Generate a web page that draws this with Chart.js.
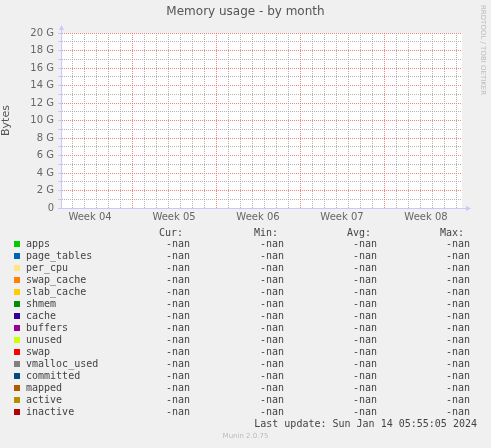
<!DOCTYPE html>
<html><head><meta charset="utf-8">
<script src="https://cdn.jsdelivr.net/npm/chart.js@4"></script>
<style>
body{margin:0;background:#f0f0f0;width:491px;height:448px;overflow:hidden;position:relative;font-family:"DejaVu Sans",sans-serif}
#wrap{position:absolute;left:0;top:0;width:491px;height:230px}
.t{position:absolute;white-space:pre}
.mono{font-family:"DejaVu Sans Mono",monospace;font-size:10px;color:#444}
.sq{position:absolute;width:6px;height:6px}
</style></head><body>
<div id="wrap"><canvas id="c" width="491" height="230" style="width:491px;height:230px"></canvas></div>
<div class="t" style="left:0;width:491px;top:4px;text-align:center;font-size:12px;color:#555">Memory usage - by month</div>
<div class="t" style="left:476px;top:5px;font-size:7px;color:#bbb;transform-origin:0 0;transform:translate(11px,0) rotate(90deg)">RRDTOOL / TOBI OETIKER</div>
<div id="legend"></div>
<script>
const weeks=["Week 04","Week 05","Week 06","Week 07","Week 08"];
const yTicks=[0,2,4,6,8,10,12,14,16,18,20];
const names=["apps","page_tables","per_cpu","swap_cache","slab_cache","shmem","cache","buffers","unused","swap","vmalloc_used","committed","mapped","active","inactive"];
const colors=["#00cc00","#0066b3","#ffe680","#ff8000","#ffcc00","#008f00","#330099","#990099","#ccff00","#ff0000","#808080","#004b80","#b35a00","#b38f00","#b30000"];
const values=names.map(()=>[null,null]);
const stats=["Cur:","Min:","Avg:","Max:"];
const lastUpdate="Last update: Sun Jan 14 05:55:05 2024";

const weekPos=weeks.map((w,i)=>2.42+7*i);
const datasets=names.map((n,i)=>({label:n,data:values[i].map((v,j)=>({x:j*30,y:v})),borderColor:colors[i],backgroundColor:colors[i],pointRadius:0,xAxisID:'x'}));
const RED='rgba(235,110,110,0.85)',GRAY='rgba(160,160,160,0.8)';
new Chart(document.getElementById('c'),{type:'line',data:{datasets},
options:{responsive:false,animation:false,devicePixelRatio:1,
 layout:{padding:{left:0,top:33,right:29,bottom:0}},
 plugins:{legend:{display:false},tooltip:{enabled:false}},
 scales:{
  y:{min:0,max:20,afterFit:s=>{s.width=61},
   afterBuildTicks:s=>{s.ticks=[];for(let v=0;v<=20;v++)s.ticks.push({value:v});},
   ticks:{autoSkip:false,padding:4,color:'#666',font:{size:10,family:'DejaVu Sans'},callback:v=>yTicks.includes(v)?(v===0?'0':v+' G'):''},
   grid:{color:c=>c.tick&&c.tick.value%2===0?RED:GRAY,lineWidth:1,drawTicks:true,tickLength:3,tickColor:'rgba(200,200,255,1)'},
   border:{display:true,color:'#ccccff',dash:[1,1]},
   title:{display:true,text:'Bytes',color:'#555',font:{size:11,family:'DejaVu Sans'},padding:0}},
  x:{type:'linear',min:0,max:33.42,afterFit:s=>{s.height=0},
   afterBuildTicks:s=>{s.ticks=[];for(let v=0.92;v<33.42;v+=1)s.ticks.push({value:v});},
   ticks:{display:false},
   grid:{color:c=>{if(!c.tick)return GRAY;const d=Math.round((c.tick.value-5.92)*100)/100;return Math.abs(d%7)<0.01?RED:GRAY},drawTicks:false},
   border:{display:true,color:'#ccccff',dash:[1,1]}},
  x2:{type:'linear',position:'bottom',min:0,max:33.42,afterFit:s=>{s.height=22},
   afterBuildTicks:s=>{s.ticks=weekPos.map(v=>({value:v}));},
   ticks:{autoSkip:false,maxRotation:0,padding:-5,color:'#666',font:{size:10,family:'DejaVu Sans'},callback:(v,i)=>weeks[i]},
   grid:{display:false},border:{display:false}}
 }},
 plugins:[{id:'bg',beforeDraw(ch){const a=ch.chartArea,x=ch.ctx;x.save();x.fillStyle='#fff';x.fillRect(a.left,a.top,a.right-a.left,a.bottom-a.top);x.restore();},
  afterDraw(ch){const a=ch.chartArea,x=ch.ctx;x.save();x.strokeStyle='#c8c8ff';x.fillStyle='#c8c8ff';x.beginPath();x.moveTo(a.left,a.bottom+0.5);x.lineTo(a.right+6,a.bottom+0.5);x.moveTo(a.left+0.5,a.bottom);x.lineTo(a.left+0.5,a.top-5);x.stroke();
   x.beginPath();x.moveTo(a.right+9,a.bottom+0.5);x.lineTo(a.right+4,a.bottom-2);x.lineTo(a.right+4,a.bottom+3);x.fill();
   x.beginPath();x.moveTo(a.left+0.5,a.top-8);x.lineTo(a.left-2,a.top-3);x.lineTo(a.left+3,a.top-3);x.fill();x.restore();}}]
});

const L=document.getElementById('legend');
let h='';
const ends=[183,278,371,464],vends=[190,284,377,470];
stats.forEach((s,i)=>{h+=`<div class="t mono" style="right:${491-ends[i]}px;top:227px">${s}</div>`;});
names.forEach((n,r)=>{const y=238+r*12;
 h+=`<div class="sq" style="left:14px;top:${y+3}px;background:${colors[r]}"></div>`;
 h+=`<div class="t mono" style="left:26px;top:${y}px">${n}</div>`;
 vends.forEach(e=>{h+=`<div class="t mono" style="right:${491-e}px;top:${y}px">-nan</div>`;});
});
h+=`<div class="t mono" style="right:14px;top:418px">${lastUpdate}</div>`;
h+=`<div class="t" style="left:0;width:491px;text-align:center;top:432px;font-size:7px;color:#bbb">Munin 2.0.75</div>`;
L.innerHTML=h;
</script></body></html>
